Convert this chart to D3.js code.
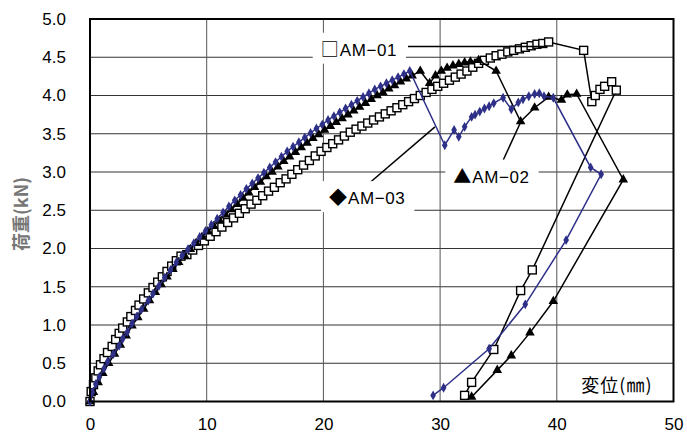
<!DOCTYPE html>
<html>
<head>
<meta charset="utf-8">
<title>荷重-変位</title>
<script src="https://d3js.org/d3.v7.min.js"></script>
<style>
body { margin: 0; background: #fff; }
svg { display: block; font-family: "Liberation Sans", Arial, sans-serif; }
</style>
</head>
<body>
<script>
// 変位(mm) / 荷重(kN)
var am01Disp = [0,0.1,0.3,0.5,0.7,0.9,1.2,1.5,1.9,2.2,2.5,2.8,3.2,3.5,3.9,4.2,4.6,5.0,5.4,5.8,6.2,6.6,7.0,7.4,7.8,
  8.3,8.8,9.3,9.8,10.3,10.8,11.3,11.8,12.3,12.8,13.3,13.8,14.3,14.8,15.3,15.8,16.3,16.8,17.3,17.8,18.3,18.8,19.3,19.8,
  20.3,20.8,21.3,21.8,22.3,22.8,23.3,23.8,24.3,24.8,25.3,25.8,26.3,26.8,27.3,27.8,28.3,28.8,29.3,29.8,30.3,30.8,31.3,
  31.8,32.3,32.8,33.3,33.8,34.3,34.8,35.3,35.8,36.3,36.8,37.3,37.8,38.3,38.8,39.3,
  42.3,43.0,43.3,43.7,44.1,44.7,45.1,37.9,36.9,34.6,32.7,32.1];
var am01Load = [0,0.13,0.22,0.31,0.40,0.48,0.56,0.64,0.72,0.81,0.89,0.96,1.04,1.11,1.19,1.26,1.34,1.42,1.49,1.56,1.63,1.70,1.77,1.84,1.90,
  1.92,1.98,2.04,2.10,2.16,2.22,2.28,2.34,2.40,2.46,2.52,2.58,2.63,2.69,2.75,2.80,2.86,2.91,2.97,3.03,3.09,3.15,3.21,3.27,
  3.32,3.37,3.42,3.47,3.52,3.56,3.60,3.64,3.68,3.72,3.76,3.80,3.84,3.88,3.92,3.96,4.00,4.04,4.08,4.12,4.16,4.20,4.24,
  4.28,4.32,4.37,4.42,4.46,4.49,4.52,4.54,4.57,4.59,4.61,4.63,4.65,4.67,4.68,4.70,
  4.59,3.92,4.00,4.08,4.12,4.18,4.07,1.72,1.45,0.68,0.25,0.08];

var am02Disp = [0,0.3,0.7,1.1,1.6,2.1,2.6,3.1,3.6,4.1,4.6,5.1,5.6,6.1,6.6,7.1,7.6,8.1,8.6,9.1,9.6,10.1,10.6,11.1,11.6,
  12.1,12.6,13.1,13.6,14.1,14.6,15.1,15.6,16.1,16.6,17.1,17.6,18.1,18.6,19.1,19.6,20.1,20.6,21.1,21.6,22.1,22.6,23.1,
  23.6,24.1,24.6,25.1,25.6,26.1,26.6,27.1,27.6,28.3,29.1,29.6,30.1,30.6,31.1,31.6,32.1,32.6,33.3,34.8,36.9,38.1,39.3,
  40.4,40.9,41.7,45.7,39.7,37.7,36.1,34.9,32.7];
var am02Load = [0,0.12,0.25,0.37,0.50,0.62,0.74,0.86,0.99,1.10,1.21,1.32,1.43,1.53,1.63,1.73,1.82,1.91,1.99,2.07,2.15,2.22,2.29,2.37,2.44,
  2.51,2.58,2.66,2.73,2.80,2.87,2.94,3.00,3.07,3.14,3.20,3.26,3.32,3.38,3.44,3.49,3.55,3.60,3.65,3.70,3.75,3.80,3.85,
  3.90,3.95,4.00,4.04,4.09,4.13,4.18,4.22,4.26,4.32,4.16,4.26,4.32,4.36,4.39,4.41,4.43,4.44,4.46,4.32,3.66,3.84,3.98,
  3.94,4.01,4.02,2.90,1.31,0.90,0.60,0.41,0.06];

var am03Disp = [0,0.2,0.5,0.8,1.2,1.5,2.0,2.5,2.8,3.2,3.6,4.0,4.4,5.0,5.4,5.9,6.4,6.9,7.4,7.9,8.4,8.9,9.4,9.9,10.4,
  10.9,11.4,11.9,12.4,12.9,13.4,13.9,14.4,14.9,15.4,15.9,16.4,16.9,17.4,17.9,18.4,18.9,19.4,19.9,20.4,20.9,21.4,21.9,
  22.4,22.9,23.4,23.9,24.4,24.9,25.4,25.9,26.4,26.9,27.4,30.4,31.2,31.6,32.1,32.7,33.0,33.4,33.8,34.2,34.6,35.4,36.1,
  36.7,37.1,37.6,38.1,38.5,38.9,39.7,42.9,43.8,40.8,37.3,34.2,30.3,29.4];
var am03Load = [0,0.12,0.23,0.32,0.43,0.52,0.62,0.73,0.82,0.91,1.02,1.11,1.20,1.32,1.41,1.51,1.62,1.72,1.82,1.91,1.99,2.07,2.15,2.23,2.31,
  2.39,2.47,2.55,2.63,2.70,2.78,2.85,2.92,2.99,3.06,3.13,3.20,3.27,3.33,3.39,3.45,3.51,3.57,3.62,3.68,3.73,3.78,3.83,
  3.88,3.93,3.98,4.03,4.08,4.12,4.16,4.20,4.24,4.28,4.32,3.35,3.55,3.46,3.59,3.72,3.75,3.79,3.83,3.86,3.90,3.97,3.82,
  3.91,3.95,3.99,4.02,4.03,3.99,3.97,3.06,2.97,2.11,1.27,0.69,0.18,0.08];

var seriesNames = ["AM-01", "AM-02", "AM-03"];
var xTicks = [0, 10, 20, 30, 40, 50];
var yTicks = [0, 0.5, 1.0, 1.5, 2.0, 2.5, 3.0, 3.5, 4.0, 4.5, 5.0];

var width = 687, height = 434;
var navy = "#2e3088";

var svg = d3.select("body").append("svg")
  .attr("width", width)
  .attr("height", height);

var x = d3.scaleLinear().domain([0, 50]).range([90, 673.5]);
var y = d3.scaleLinear().domain([0, 5]).range([401.5, 19]);

// grid
svg.append("g").selectAll("line").data(yTicks.slice(1, -1)).enter().append("line")
  .attr("x1", x(0)).attr("x2", x(50))
  .attr("y1", function(d) { return y(d); }).attr("y2", function(d) { return y(d); })
  .attr("stroke", "#333").attr("stroke-width", 1);
svg.append("g").selectAll("line").data(xTicks.slice(1, -1)).enter().append("line")
  .attr("x1", function(d) { return x(d); }).attr("x2", function(d) { return x(d); })
  .attr("y1", y(0)).attr("y2", y(5))
  .attr("stroke", "#555").attr("stroke-width", 1);

// axes labels
var yAxis = svg.append("g").attr("transform", "translate(" + x(0) + ",0)")
  .call(d3.axisLeft(y).tickValues(yTicks).tickFormat(d3.format(".1f")).tickSize(0).tickPadding(24));
var xAxis = svg.append("g").attr("transform", "translate(0," + y(0) + ")")
  .call(d3.axisBottom(x).tickValues(xTicks).tickSize(0).tickPadding(16));
[yAxis, xAxis].forEach(function(a) {
  a.select(".domain").remove();
  a.selectAll("text").attr("font-size", 17).attr("fill", "#000")
    .attr("font-family", "'Liberation Sans', Arial, sans-serif");
});

function pts(xs, ys) {
  return xs.map(function(d, i) { return [d, ys[i]]; });
}
var series = [
  { name: seriesNames[0], data: pts(am01Disp, am01Load), color: "#000", marker: "square" },
  { name: seriesNames[1], data: pts(am02Disp, am02Load), color: "#000", marker: "triangle" },
  { name: seriesNames[2], data: pts(am03Disp, am03Load), color: navy, marker: "diamond" }
];

var line = d3.line()
  .x(function(d) { return x(d[0]); })
  .y(function(d) { return y(d[1]); });

series.forEach(function(s) {
  var g = svg.append("g");
  g.append("path").datum(s.data)
    .attr("d", line)
    .attr("fill", "none")
    .attr("stroke", s.color)
    .attr("stroke-width", 1.5);
  var m = g.selectAll(".m").data(s.data).enter();
  if (s.marker == "square") {
    m.append("rect")
      .attr("x", function(d) { return x(d[0]) - 4; })
      .attr("y", function(d) { return y(d[1]) - 4; })
      .attr("width", 8).attr("height", 8)
      .attr("fill", "#fff").attr("stroke", "#000").attr("stroke-width", 1.4);
  } else {
    var sym = d3.symbol()
      .type(s.marker == "triangle" ? d3.symbolTriangle : d3.symbolDiamond)
      .size(s.marker == "triangle" ? 40 : 28);
    m.append("path")
      .attr("transform", function(d) { return "translate(" + x(d[0]) + "," + y(d[1]) + ")"; })
      .attr("d", sym)
      .attr("fill", s.color);
  }
});

// frame
svg.append("rect")
  .attr("x", x(0)).attr("y", y(5))
  .attr("width", x(50) - x(0)).attr("height", y(0) - y(5))
  .attr("fill", "none").attr("stroke", "#000").attr("stroke-width", 2);

// series labels with leader lines (positions in data units)
var labels = [
  { text: seriesNames[0], sym: "□", at: [19.77, 4.60], lead: [[27.25, 4.64], [39.1, 4.64]] },
  { text: seriesNames[1], sym: "▲", at: [31.13, 2.94], lead: [[35.42, 3.16], [36.99, 3.68]] },
  { text: seriesNames[2], sym: "◆", at: [20.48, 2.66], lead: [[23.82, 2.84], [29.56, 3.59]] }
];

labels.forEach(function(l) {
  svg.append("line")
    .attr("x1", x(l.lead[0][0])).attr("y1", y(l.lead[0][1]))
    .attr("x2", x(l.lead[1][0])).attr("y2", y(l.lead[1][1]))
    .attr("stroke", "#000").attr("stroke-width", 1.5);
  var g = svg.append("g");
  var box = g.append("rect").attr("fill", "#fff");
  var t = g.append("text")
    .attr("x", x(l.at[0])).attr("y", y(l.at[1]))
    .attr("dy", "0.36em")
    .attr("font-size", 17);
  t.append("tspan").attr("font-family", "'Noto Sans CJK JP'").attr("font-size", 18).text(l.sym);
  t.append("tspan").attr("dx", 1).attr("letter-spacing", 0.6).text(l.text.replace("-", "\u2212"));
  var b = t.node().getBBox();
  box.attr("x", b.x - 8).attr("y", b.y + b.height / 2 - 15)
    .attr("width", b.width + 17).attr("height", 31);
});

// axis titles
svg.append("text")
  .attr("x", x(42.1)).attr("y", y(0.21))
  .attr("dy", "0.36em")
  .attr("font-family", "'Noto Sans CJK JP'")
  .attr("font-size", 18)
  .attr("letter-spacing", 1)
  .text("変位(㎜)");

svg.append("text")
  .attr("transform", "translate(22,214) rotate(-90)")
  .attr("text-anchor", "middle")
  .attr("dy", "0.36em")
  .attr("font-family", "'Noto Sans CJK JP'")
  .attr("font-size", 18)
  .attr("font-weight", "bold")
  .attr("fill", "#777")
  .text("荷重(kN)");
</script>
</body>
</html>
